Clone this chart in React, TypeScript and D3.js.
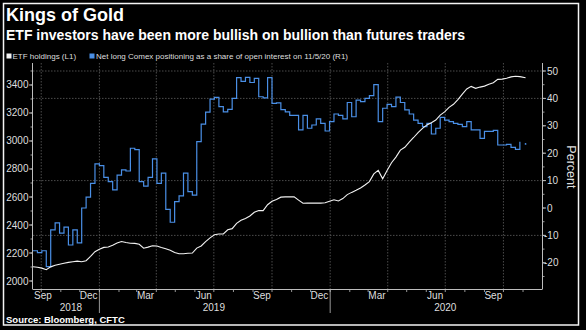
import React from 'react';
import * as d3 from 'd3';

// ---- data ----
const START_DATE = '2018-09-18';
const LAST_DATE = '2020-11-05';
const DOMAIN_DATES = ['2018-09-18', '2020-12-01'];

// Net long Comex positioning as share of open interest (%), weekly (R1)
const comexNetLong = [
  -15.6, -16.3, -15.6, -21.4, -8.0, -5.4, -9.2, -7.0, -13.5, -8.0,
  -12.7, 0.0, 4.0, 9.0, 16.1, 15.5, 11.2, 9.6, 6.6, 12.0,
  13.9, 13.5, 21.8, 21.3, 9.6, 8.0, 11.2, 17.9, 9.0, 12.7,
  -0.5, -5.2, 2.3, 4.4, 12.7, 6.0, 4.7, 24.2, 30.6, 35.0,
  39.7, 40.4, 37.0, 35.1, 36.0, 40.0, 47.6, 46.2, 47.7, 45.8,
  47.3, 40.6, 40.2, 47.6, 38.2, 38.4, 35.9, 35.1, 33.8, 33.8,
  28.5, 33.8, 29.1, 30.3, 32.5, 30.9, 28.1, 31.5, 34.3, 33.8,
  32.5, 38.5, 33.3, 39.4, 38.8, 40.0, 41.0, 45.0, 31.5, 36.4,
  37.8, 37.0, 40.5, 38.5, 35.8, 34.3, 32.1, 30.9, 29.7, 30.9,
  27.0, 29.1, 33.1, 32.1, 31.5, 30.9, 30.5, 29.7, 31.5, 28.5,
  28.5, 25.4, 28.0, 28.0, 28.3, 23.0, 23.0, 23.2, 22.1, 21.4,
  24.2,
];
const comexLast = 23.4;

// ETF holdings (tons), weekly (L1)
const etfHoldings = [
  2102, 2098, 2092, 2081, 2101, 2112, 2120, 2127, 2133, 2138,
  2142, 2138, 2145, 2176, 2209, 2226, 2240, 2243, 2255, 2272,
  2282, 2275, 2270, 2269, 2262, 2234, 2242, 2252, 2250, 2240,
  2231, 2220, 2204, 2195, 2195, 2198, 2200, 2235, 2250, 2281,
  2308, 2330, 2336, 2336, 2366, 2374, 2412, 2434, 2447, 2464,
  2491, 2504, 2503, 2545, 2569, 2583, 2599, 2601, 2602, 2601,
  2578, 2555, 2556, 2557, 2556, 2556, 2559, 2570, 2580, 2572,
  2589, 2617, 2633, 2648, 2664, 2686, 2710, 2765, 2790, 2730,
  2790, 2845, 2885, 2935, 2955, 2992, 3025, 3060, 3090, 3115,
  3130, 3150, 3185, 3208, 3240, 3262, 3295, 3335, 3372, 3390,
  3376, 3385, 3392, 3405, 3416, 3440, 3442, 3448, 3458, 3462,
  3460,
];
const etfLast = 3452;

const leftTicks = [2000, 2200, 2400, 2600, 2800, 3000, 3200, 3400];
const rightTicks = [-20, -10, 0, 10, 20, 30, 40, 50];
const gridValues = [-10, 10, 40, 50];
const monthLabels = ['Sep', 'Dec', 'Mar', 'Jun', 'Sep', 'Dec', 'Mar', 'Jun', 'Sep'];
const monthLabelDates = [
  '2018-09-15', '2018-12-15', '2019-03-15', '2019-06-15', '2019-09-15',
  '2019-12-15', '2020-03-15', '2020-06-15', '2020-09-15',
];
const yearLabels = ['2018', '2019', '2020'];
const yearLabelDates = ['2018-11-17', '2019-07-01', '2020-07-01'];

const TITLE = 'Kings of Gold';
const SUBTITLE = 'ETF investors have been more bullish on bullion than futures traders';
const LEGEND_ETF = 'ETF holdings (L1)';
const LEGEND_COMEX = 'Net long Comex positioning as a share of open interest on 11/5/20 (R1)';
const SOURCE = 'Source: Bloomberg, CFTC';

// ---- layout ----
const W = 586;
const H = 330;
const M = { left: 33, right: 542, top: 63, bottom: 289 };
const FONT = '"Liberation Sans", Arial, sans-serif';
const TXT = '#dedede';
const AXIS = '#bdbdbd';
const GRID = '#5e5e5e';
const BLUE = '#4a8fe6';
const WHITE = '#f2f2f2';

const parse = d3.timeParse('%Y-%m-%d');

export default function App() {
  const start = parse(START_DATE)!;
  const dates = comexNetLong.map((_, i) => d3.timeDay.offset(start, i * 7));
  const lastDate = parse(LAST_DATE)!;

  const x = d3.scaleTime()
    .domain(DOMAIN_DATES.map((d) => parse(d)!))
    .range([M.left, M.right]);

  // left: 2000 -> 281, 3400 -> 85
  const yL = d3.scaleLinear().domain([1942.9, 3557.1]).range([M.bottom, M.top]);
  // right: 0 -> 208, 50 -> 71
  const yR = d3.scaleLinear().domain([-29.56, 52.92]).range([M.bottom, M.top]);

  const blueLine = d3.line<number>()
    .x((_, i) => x(dates[i]))
    .y((v) => yR(v))
    .curve(d3.curveStepAfter);

  const etfPts: [Date, number][] = etfHoldings.map((v, i) => [dates[i], v]);
  etfPts.push([lastDate, etfLast]);
  const whiteLine = d3.line<[Date, number]>()
    .x((d) => x(d[0]))
    .y((d) => yL(d[1]))
    .curve(d3.curveLinear);

  const [d0, d1] = x.domain();
  const quarterStarts = d3.timeMonth.range(d0, d1).filter((d) => d.getMonth() % 3 === 0);
  const monthStarts = d3.timeMonth.range(d0, d1);
  const yearStarts = d3.timeYear.range(d0, d1);

  const leftMinor = d3.range(2000, 3501, 100);
  const rightMinor = d3.range(-25, 51, 5);

  return (
    <svg width={W} height={H} style={{ position: 'absolute', left: 0, top: 0, background: '#000' }}>
      <rect x={0} y={0} width={W} height={H} fill="#000" />
      <rect x={3.5} y={3.5} width={575} height={321.5} fill="#000" stroke="#f5f5f5" strokeWidth={1.5} />

      {/* titles */}
      <text x={6} y={21} fill="#fff" fontFamily={FONT} fontWeight="bold" fontSize={18}>{TITLE}</text>
      <text x={6} y={40} fill="#fff" fontFamily={FONT} fontWeight="bold" fontSize={14}>{SUBTITLE}</text>

      {/* legend */}
      <rect x={6.5} y={53.5} width={5} height={5} fill={WHITE} />
      <text x={12.5} y={58.8} fill={TXT} fontFamily={FONT} fontSize={8}>{LEGEND_ETF}</text>
      <rect x={89.5} y={53.5} width={5} height={5} fill={BLUE} />
      <text x={96} y={58.8} fill={TXT} fontFamily={FONT} fontSize={8}>{LEGEND_COMEX}</text>

      {/* gridlines */}
      {gridValues.map((t) => (
        <line key={'gh' + t} x1={M.left} x2={M.right} y1={yR(t)} y2={yR(t)}
          stroke={GRID} strokeWidth={0.8} strokeDasharray="1.5,1.5" />
      ))}
      {quarterStarts.map((d) => (
        <line key={'gv' + d.getTime()} x1={x(d)} x2={x(d)} y1={M.top} y2={M.bottom}
          stroke={GRID} strokeWidth={0.8} strokeDasharray="1.5,1.5" />
      ))}

      {/* series */}
      <path d={blueLine(comexNetLong) || ''} fill="none" stroke={BLUE} strokeWidth={1.2} />
      <circle cx={x(lastDate)} cy={yR(comexLast)} r={0.9} fill={BLUE} />
      <path d={whiteLine(etfPts) || ''} fill="none" stroke={WHITE} strokeWidth={1.1} />

      {/* left axis */}
      <line x1={M.left - 0.5} x2={M.left - 0.5} y1={M.top} y2={M.bottom} stroke={AXIS} strokeWidth={1} />
      {leftMinor.map((t) => (
        <line key={'lm' + t} x1={M.left - 2.5} x2={M.left - 0.5} y1={yL(t)} y2={yL(t)} stroke={AXIS} strokeWidth={0.8} />
      ))}
      {leftTicks.map((t) => (
        <g key={'lt' + t}>
          <line x1={M.left - 4} x2={M.left - 0.5} y1={yL(t)} y2={yL(t)} stroke={AXIS} strokeWidth={1} />
          <text x={M.left - 4.5} y={yL(t)} dy="0.35em" textAnchor="end" fill={TXT} fontFamily={FONT} fontSize={10}>{t}</text>
        </g>
      ))}

      {/* right axis */}
      <line x1={M.right + 0.5} x2={M.right + 0.5} y1={M.top} y2={M.bottom} stroke={AXIS} strokeWidth={1} />
      {rightMinor.map((t) => (
        <line key={'rm' + t} x1={M.right + 0.5} x2={M.right + 2.5} y1={yR(t)} y2={yR(t)} stroke={AXIS} strokeWidth={0.8} />
      ))}
      {rightTicks.map((t) => (
        <g key={'rt' + t}>
          <line x1={M.right + 0.5} x2={M.right + 4} y1={yR(t)} y2={yR(t)} stroke={AXIS} strokeWidth={1} />
          <text x={t < 0 ? M.right + 2 : M.right + 5} y={yR(t)} dy="0.35em" textAnchor="start" fill={TXT} fontFamily={FONT} fontSize={10}>{t}</text>
        </g>
      ))}
      <text transform={`translate(${567},${yR(15)}) rotate(90)`} textAnchor="middle" fill={TXT} fontFamily={FONT} fontSize={12.5}>Percent</text>

      {/* bottom axis */}
      <line x1={M.left - 0.5} x2={M.right + 0.5} y1={M.bottom + 0.5} y2={M.bottom + 0.5} stroke={AXIS} strokeWidth={1} />
      {monthStarts.map((d) => (
        <line key={'mt' + d.getTime()} x1={x(d)} x2={x(d)} y1={M.bottom + 0.5} y2={M.bottom + 3} stroke={AXIS} strokeWidth={0.8} />
      ))}
      {yearStarts.map((d) => (
        <line key={'ys' + d.getTime()} x1={x(d)} x2={x(d)} y1={M.bottom + 0.5} y2={M.bottom + 24} stroke={AXIS} strokeWidth={0.8} />
      ))}
      {monthLabels.map((m, i) => (
        <text key={'ml' + i} x={Math.max(x(parse(monthLabelDates[i])!), M.left + 10)} y={M.bottom + 10}
          textAnchor="middle" fill={TXT} fontFamily={FONT} fontSize={10}>{m}</text>
      ))}
      {yearLabels.map((yl, i) => (
        <text key={'yl' + i} x={x(parse(yearLabelDates[i])!)} y={M.bottom + 22}
          textAnchor="middle" fill={TXT} fontFamily={FONT} fontSize={10}>{yl}</text>
      ))}

      <text x={6} y={322.5} fill="#fff" fontFamily={FONT} fontWeight="bold" fontSize={9.5}>{SOURCE}</text>
    </svg>
  );
}
